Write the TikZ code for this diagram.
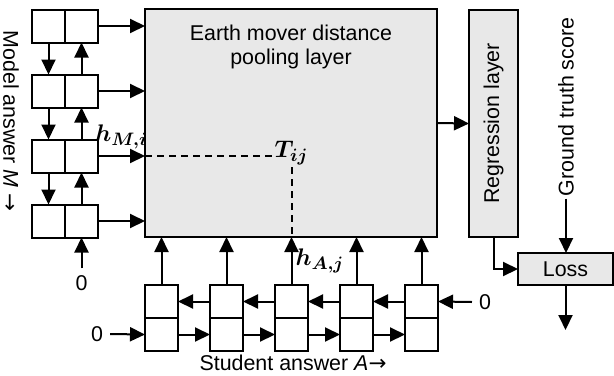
\documentclass[tikz,border=0pt]{standalone}
\usepackage{amsmath,amssymb}
\usepackage{fontspec}
\setmainfont{Liberation Sans}
\newfontfamily\arrowfont{DejaVu Sans}
\usepackage{tikz}
\usetikzlibrary{positioning,arrows.meta,calc}
\definecolor{layergray}{RGB}{232,232,232}

\begin{document}
\begin{tikzpicture}[x=0.5pt, y=-0.5pt,
      font=\fontsize{10.7}{11.8}\selectfont,
      cell/.style={draw, line width=1pt, minimum width=16.5pt, minimum height=16.5pt,
                   inner sep=0pt, outer sep=0pt},
      layer/.style={draw, line width=1pt, fill=layergray, inner sep=0pt, outer sep=0pt},
      arrow/.style={-{Triangle[length=7.5pt,width=7pt]}, line width=1pt},
      dline/.style={dash pattern=on 3.5pt off 2.5pt, line width=1pt},
      mathlabel/.style={font=\fontsize{12.5}{14}\selectfont}
  ]
  \useasboundingbox (0,0) rectangle (614,375);

  %% ---- EMD pooling layer ----
  \node[layer, minimum width=146pt, minimum height=114pt] (emd) at (291,123) {};
  \node[align=center] (emdtext) at (291,47) {Earth mover distance\\pooling layer};

  %% ---- Model answer (left column) ----
  \node[cell] (m1l) at (48.5,26) {};
  \node[cell, right=0pt of m1l] (m1r) {};
  \node[cell] (m2l) at (48.5,91) {};
  \node[cell, right=0pt of m2l] (m2r) {};
  \node[cell] (m3l) at (48.5,156) {};
  \node[cell, right=0pt of m3l] (m3r) {};
  \node[cell] (m4l) at (48.5,221) {};
  \node[cell, right=0pt of m4l] (m4r) {};
  \node (mtext) at (11,121) {\rotatebox{-90}{Model answer \textit{M} {\arrowfont →}}};
  \node (zm) at (81.5,283) {0};

  %% ---- Student answer (bottom row) ----
  \node[cell] (s1t) at (161.5,301.5) {};
  \node[cell, below=0pt of s1t] (s1b) {};
  \node[cell] (s2t) at (226.5,301.5) {};
  \node[cell, below=0pt of s2t] (s2b) {};
  \node[cell] (s3t) at (291.5,301.5) {};
  \node[cell, below=0pt of s3t] (s3b) {};
  \node[cell] (s4t) at (356.5,301.5) {};
  \node[cell, below=0pt of s4t] (s4b) {};
  \node[cell] (s5t) at (421.5,301.5) {};
  \node[cell, below=0pt of s5t] (s5b) {};
  \node (stext) at (293,363) {Student answer \textit{A}{\arrowfont →}};
  \node (zl) at (97,334) {0};
  \node (zr) at (485,302) {0};

  %% ---- Regression and loss ----
  \node[layer, minimum width=24.5pt, minimum height=113.5pt] (reg) at (493.5,123.5)
      {\rotatebox{90}{Regression layer}};
  \node[layer, minimum width=47.5pt, minimum height=16pt] (loss) at (565.5,269) {Loss};
  \node[inner sep=1pt] (gt) at (566,107) {\rotatebox{90}{Ground truth score}};
  \coordinate (out) at (565.5,330);

  %% ---- Alignment entry ----
  \node[mathlabel, inner sep=1pt] (tij) at (291.5,153) {$\boldsymbol{T_{ij}}$};

  %% ---- Connections ----

  % Model answer recurrences
  \draw[arrow] (m1l.south) -- (m2l.north);
  \draw[arrow] (m2l.south) -- (m3l.north);
  \draw[arrow] (m3l.south) -- (m4l.north);
  \draw[arrow] (zm.north) -- (m4r.south);
  \draw[arrow] (m4r.north) -- (m3r.south);
  \draw[arrow] (m3r.north) -- (m2r.south);
  \draw[arrow] (m2r.north) -- (m1r.south);

  % Model answer states into pooling layer
  \draw[arrow] (m1r.east) -- (m1r.east -| emd.west);
  \draw[arrow] (m2r.east) -- (m2r.east -| emd.west);
  \draw[arrow] (m3r.east) -- (m3r.east -| emd.west)
      node[mathlabel, midway, above, inner sep=3pt] (hm) {$\boldsymbol{h_{M,i}}$};
  \draw[arrow] (m4r.east) -- (m4r.east -| emd.west);

  % Student answer recurrences
  \draw[arrow] (zl.east) -- (s1b.west);
  \draw[arrow] (s1b.east) -- (s2b.west);
  \draw[arrow] (s2b.east) -- (s3b.west);
  \draw[arrow] (s3b.east) -- (s4b.west);
  \draw[arrow] (s4b.east) -- (s5b.west);
  \draw[arrow] (zr.west) -- (s5t.east);
  \draw[arrow] (s5t.west) -- (s4t.east);
  \draw[arrow] (s4t.west) -- (s3t.east);
  \draw[arrow] (s3t.west) -- (s2t.east);
  \draw[arrow] (s2t.west) -- (s1t.east);

  % Student answer states into pooling layer
  \draw[arrow] (s1t.north) -- (s1t.north |- emd.south);
  \draw[arrow] (s2t.north) -- (s2t.north |- emd.south);
  \draw[arrow] (s3t.north) -- (s3t.north |- emd.south)
      node[mathlabel, midway, right, inner sep=1.5pt] (ha) {$\boldsymbol{h_{A,j}}$};
  \draw[arrow] (s4t.north) -- (s4t.north |- emd.south);
  \draw[arrow] (s5t.north) -- (s5t.north |- emd.south);

  % Dashed guides to T_ij
  \draw[dline] (m3r.east -| emd.west) -- (m3r.east -| tij.west);
  \draw[dline] (tij.south) -- (tij.south |- emd.south);

  % Pooling -> regression -> loss
  \draw[arrow] (emd.east) -- (reg.west);
  \draw[arrow] (reg.south) |- (loss.west);
  \draw[arrow] (gt.south) -- (gt.south |- loss.north);
  \draw[arrow] (loss.south) -- (out);

\end{tikzpicture}
\end{document}
